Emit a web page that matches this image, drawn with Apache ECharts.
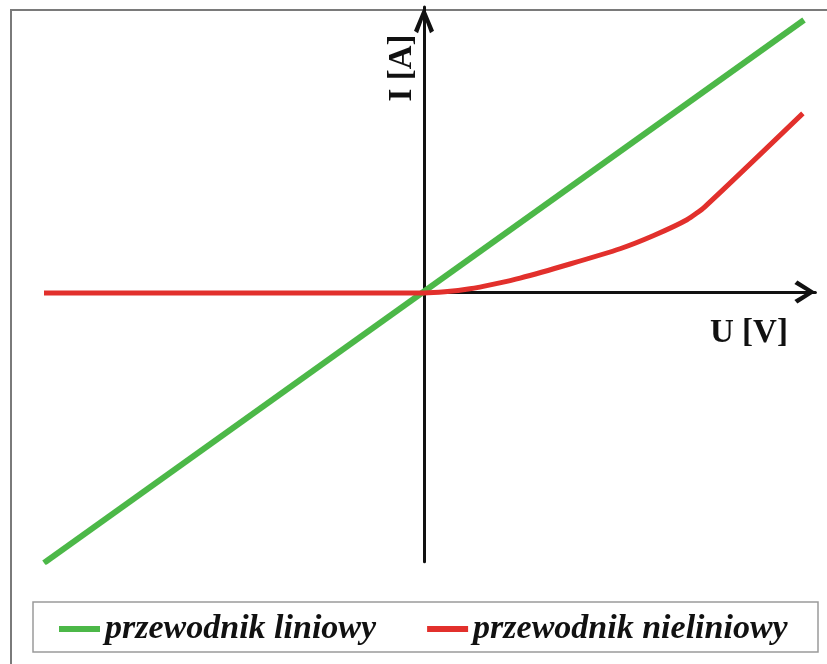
<!DOCTYPE html>
<html>
<head>
<meta charset="utf-8">
<script src="https://cdn.jsdelivr.net/npm/echarts@6/dist/echarts.min.js"></script>
<style>
  html, body { margin: 0; padding: 0; background: #fff; }
  #chart { width: 827px; height: 664px; }
</style>
</head>
<body>
<div id="chart"></div>
<script>
// series names (legend)
var names = ['przewodnik liniowy', 'przewodnik nieliniowy'];
// U [V] / I [A] pairs (arbitrary units)
var linear = [[-10, -7.08], [10, 7.16]];
var nonlinear = [
    [-10, 0], [0, 0], [0.55, 0.03], [1.21, 0.11], [1.87, 0.24], [2.53, 0.39],
    [3.84, 0.76], [5.16, 1.16], [6.03, 1.5], [6.92, 1.92], [7.39, 2.26],
    [9.97, 4.71]
];
var axisNames = ['U [V]', 'I [A]'];

var chart = document.getElementById('chart');
var myChart = echarts.init(chart);

var arrowY = 'path://M10,0 L20,24 L16,26.5 L10,10 L4,26.5 L0,24 Z';
var arrowX = 'path://M11.5,0 L23,18 L19.5,21 L11.5,7.5 L3.5,21 L0,18 Z';
var hidden = { show: false };

option = {
    animation: false,
    grid: [
        { left: 32.6, right: 11.6, top: 7, bottom: 102.2, outerBoundsMode: 'none' },
        { left: 424, right: 11.6, top: 100, bottom: 372, outerBoundsMode: 'none' }
    ],
    xAxis: [{
        type: 'value', gridIndex: 0, min: -10.3, max: 10.3,
        axisLine: hidden, axisTick: hidden, axisLabel: hidden, splitLine: hidden
    }, {
        type: 'value', gridIndex: 1, min: 0, max: 10.3,
        axisLine: {
            show: true,
            symbol: ['none', arrowX],
            symbolSize: [23, 21],
            symbolOffset: [0, -10.5],
            lineStyle: { color: '#111', width: 3 }
        },
        axisTick: hidden, axisLabel: hidden, splitLine: hidden
    }],
    yAxis: [{
        type: 'value', gridIndex: 0, min: -7.05, max: 7.5,
        axisLine: {
            show: true,
            onZero: true,
            symbol: ['none', arrowY],
            symbolSize: [20, 26.5],
            symbolOffset: [0, -13],
            lineStyle: { color: '#111', width: 3 }
        },
        axisTick: hidden, axisLabel: hidden, splitLine: hidden
    }, {
        type: 'value', gridIndex: 1, min: 0, max: 1, show: false
    }],
    legend: {
        left: 59,
        top: 612,
        data: names,
        icon: 'rect',
        itemWidth: 41,
        itemHeight: 6,
        itemGap: 51,
        padding: 0,
        textStyle: {
            fontFamily: 'Liberation Serif',
            fontStyle: 'italic',
            fontWeight: 'bold',
            fontSize: 34,
            color: '#111'
        }
    },
    graphic: [{
        type: 'rect',
        shape: { x: 11, y: 10, width: 840, height: 720 },
        style: { fill: 'none', stroke: '#7a7a7a', lineWidth: 2 },
        silent: true
    }, {
        type: 'rect',
        shape: { x: 33, y: 602, width: 785, height: 50 },
        style: { fill: 'none', stroke: '#9a9a9a', lineWidth: 1.5 },
        silent: true
    }, {
        type: 'text',
        x: 710, y: 333,
        style: {
            text: axisNames[0],
            font: 'bold 33px "Liberation Serif"',
            fill: '#111',
            verticalAlign: 'middle'
        }
    }, {
        type: 'text',
        x: 402, y: 68,
        rotation: Math.PI / 2,
        style: {
            text: axisNames[1],
            font: 'bold 33px "Liberation Serif"',
            fill: '#111',
            align: 'center',
            verticalAlign: 'middle'
        }
    }],
    series: [
        {
            name: names[0],
            type: 'line',
            xAxisIndex: 0, yAxisIndex: 0,
            symbol: 'none',
            lineStyle: { color: '#4cb848', width: 6 },
            itemStyle: { color: '#4cb848' },
            data: linear
        },
        {
            name: names[1],
            type: 'line',
            xAxisIndex: 0, yAxisIndex: 0,
            symbol: 'none',
            smooth: 0.2,
            lineStyle: { color: '#e2302c', width: 5 },
            itemStyle: { color: '#e2302c' },
            data: nonlinear
        }
    ]
};

myChart.setOption(option);
</script>
</body>
</html>
